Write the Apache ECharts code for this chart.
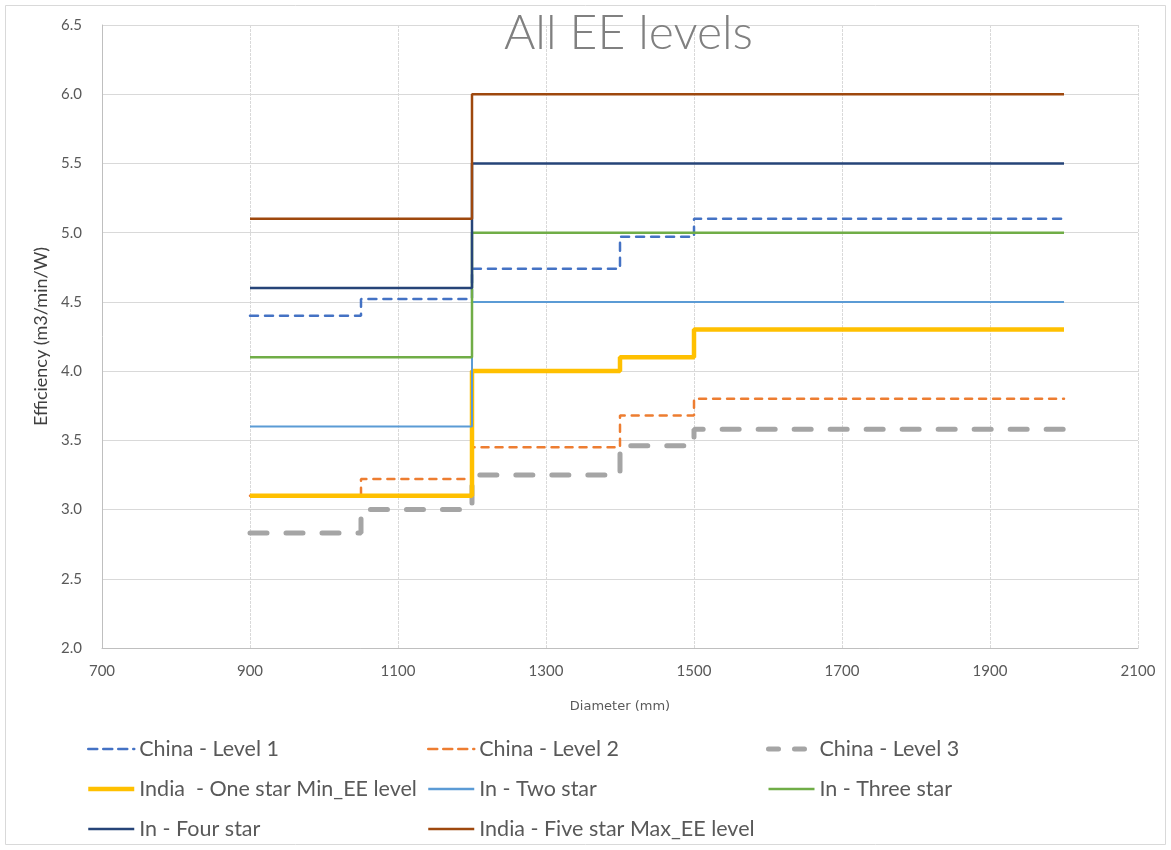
<!DOCTYPE html>
<html>
<head>
<meta charset="utf-8">
<script src="https://cdn.jsdelivr.net/npm/echarts@6/dist/echarts.min.js"></script>
<style>
  html, body { margin: 0; padding: 0; background: #fff; }
  #chart { width: 1171px; height: 850px; }
</style>
</head>
<body>
<div id="chart"></div>
<script>
// Diameter breakpoints (mm); the last value is repeated to close each step
const chinaX = [900, 1050, 1200, 1400, 1500, 2000];
const indiaOneX = [900, 1200, 1400, 1500, 2000];
const indiaX = [900, 1200, 2000];

// Efficiency levels (m3/min/W)
const chinaLevel1 = [4.40, 4.52, 4.74, 4.97, 5.10, 5.10];
const chinaLevel2 = [3.10, 3.22, 3.45, 3.68, 3.80, 3.80];
const chinaLevel3 = [2.83, 3.00, 3.25, 3.46, 3.58, 3.58];
const indiaOneStar = [3.10, 4.00, 4.10, 4.30, 4.30];
const inTwoStar = [3.60, 4.50, 4.50];
const inThreeStar = [4.10, 5.00, 5.00];
const inFourStar = [4.60, 5.50, 5.50];
const indiaFiveStar = [5.10, 6.00, 6.00];

const seriesNames = [
  'China - Level 1', 'China - Level 2', 'China - Level 3',
  'India  - One star Min_EE level', 'In - Two star', 'In - Three star',
  'In - Four star', 'India - Five star Max_EE level'
];
const xTicks = [700, 900, 1100, 1300, 1500, 1700, 1900, 2100];
const yTicks = [2.0, 2.5, 3.0, 3.5, 4.0, 4.5, 5.0, 5.5, 6.0, 6.5];

// Line styles per series: colour, width, dash pattern
const styles = [
  { color: '#4472C4', width: 2.5, dash: [8, 7], legendDash: [9, 6] },
  { color: '#ED7D31', width: 2.5, dash: [7, 7], legendDash: [9, 6] },
  { color: '#A5A5A5', width: 5, dash: [17, 19], legendDash: [10, 16] },
  { color: '#FFC000', width: 4.5 },
  { color: '#5B9BD5', width: 2 },
  { color: '#70AD47', width: 2.5 },
  { color: '#264478', width: 2.5 },
  { color: '#9E480E', width: 2.5 }
];

function pairs(xs, ys) { return xs.map((x, i) => [x, ys[i]]); }

function stepSeries(i, xs, ys) {
  const s = styles[i];
  return {
    name: seriesNames[i],
    type: 'line',
    step: 'end',
    symbol: 'none',
    data: pairs(xs, ys),
    lineStyle: { color: s.color, width: s.width, type: s.dash || 'solid', cap: s.dash ? 'round' : 'butt' },
    itemStyle: { color: s.color },
    emphasis: { disabled: true },
    animation: false
  };
}

function legendItem(i) {
  const s = styles[i];
  return {
    name: seriesNames[i],
    itemStyle: { opacity: 0 },
    lineStyle: { color: s.color, width: s.width === 2 ? 2.5 : s.width, type: s.legendDash || 'solid', cap: s.legendDash ? 'round' : 'butt' }
  };
}

const legendText = { fontFamily: 'Lato', fontSize: 21.5, color: '#595959' };
function legendColumn(left, idx) {
  return {
    orient: 'vertical', left: left, top: 733,
    itemWidth: 46, itemHeight: 14, itemGap: 18,
    textStyle: legendText, data: idx.map(legendItem), selectedMode: false
  };
}

const chart = echarts.init(document.getElementById('chart'), null, { renderer: 'canvas' });
chart.setOption({
  backgroundColor: '#fff',
  animation: false,
  title: {
    text: 'All EE levels', left: 499, top: 5,
    textStyle: { fontFamily: 'Lato', fontWeight: 300, fontSize: 48, color: '#808080' }
  },
  graphic: [{
    type: 'rect', shape: { x: 5.5, y: 5.5, width: 1160, height: 839 },
    style: { fill: 'none', stroke: '#d9d9d9', lineWidth: 1 }, silent: true, z: -1
  }],
  legend: [
    legendColumn(81, [0, 3, 6]),
    legendColumn(422, [1, 4, 7]),
    legendColumn(761, [2, 5])
  ],
  grid: { left: 102, right: 33, top: 25, bottom: 202, containLabel: false },
  xAxis: {
    type: 'value', min: xTicks[0], max: xTicks[xTicks.length - 1], interval: 200,
    name: 'Diameter (mm)', nameLocation: 'middle', nameGap: 52,
    nameTextStyle: { fontFamily: 'DejaVu Sans', fontSize: 13, color: '#595959' },
    axisLine: { lineStyle: { color: '#bfbfbf' } },
    axisTick: { show: false },
    axisLabel: { fontFamily: 'Lato', fontSize: 15, color: '#595959', margin: 16,
      formatter: v => String(v) },
    splitLine: { lineStyle: { color: '#d9d9d9', type: [3, 1] } }
  },
  yAxis: {
    type: 'value', min: yTicks[0], max: yTicks[yTicks.length - 1], interval: 0.5,
    name: 'Efficiency (m3/min/W)', nameLocation: 'middle', nameGap: 49,
    nameTextStyle: { fontFamily: 'Lato', fontSize: 18, color: '#404040' },
    axisLine: { show: true, lineStyle: { color: '#bfbfbf' } },
    axisTick: { show: false },
    axisLabel: { fontFamily: 'Lato', fontSize: 15, color: '#595959', margin: 20,
      formatter: v => v.toFixed(1) },
    splitLine: { lineStyle: { color: '#d9d9d9' } }
  },
  series: [
    stepSeries(0, chinaX, chinaLevel1),
    stepSeries(1, chinaX, chinaLevel2),
    stepSeries(2, chinaX, chinaLevel3),
    stepSeries(3, indiaOneX, indiaOneStar),
    stepSeries(4, indiaX, inTwoStar),
    stepSeries(5, indiaX, inThreeStar),
    stepSeries(6, indiaX, inFourStar),
    stepSeries(7, indiaX, indiaFiveStar)
  ]
});
</script>
</body>
</html>
